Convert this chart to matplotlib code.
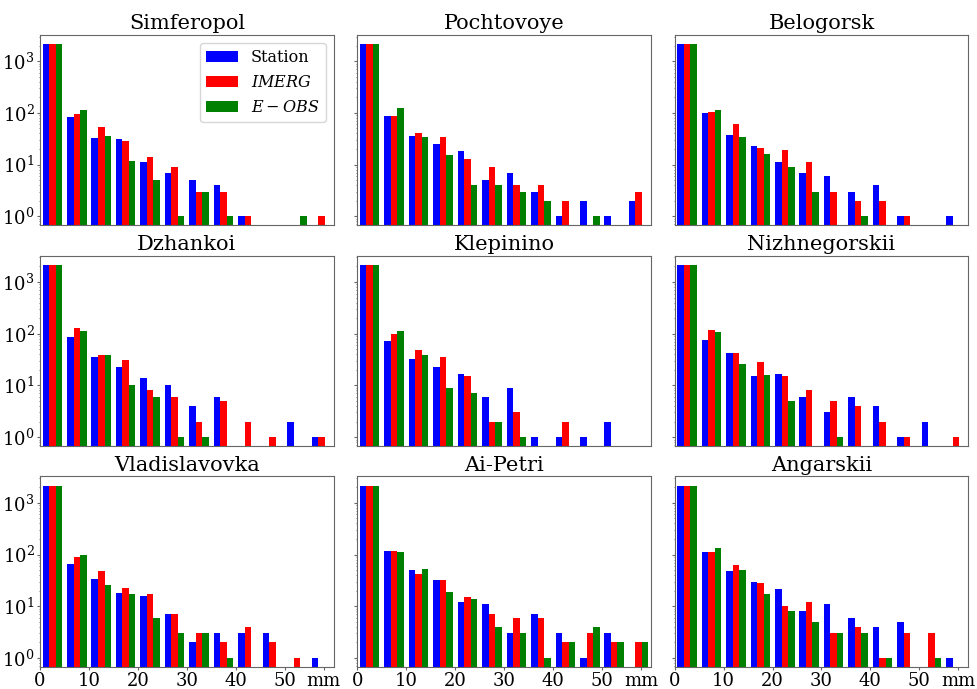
import numpy as np
import matplotlib
matplotlib.use("Agg")
import matplotlib.pyplot as plt

plt.rcParams['font.family'] = ['DejaVu Serif']
plt.rcParams['mathtext.fontset'] = 'dejavuserif'

# --------------------
# Data: counts per 5 mm bin (0-60 mm)
# --------------------
EDGES = np.arange(0, 65, 5)
STATIONS = ["Simferopol", "Pochtovoye", "Belogorsk",
            "Dzhankoi", "Klepinino", "Nizhnegorskii",
            "Vladislavovka", "Ai-Petri", "Angarskii"]

station = [
    [2150, 82, 32, 31, 11, 7, 5, 4, 1, 0, 0, 0],
    [2150, 88, 36, 25, 18, 5, 7, 3, 1, 2, 1, 2],
    [2150, 98, 38, 23, 11, 7, 6, 3, 4, 1, 0, 1],
    [2150, 85, 36, 23, 14, 10, 4, 6, 0, 0, 2, 1],
    [2150, 74, 33, 23, 17, 6, 9, 1, 1, 1, 2, 0],
    [2150, 75, 43, 15, 17, 6, 3, 6, 4, 1, 2, 0],
    [2150, 67, 34, 18, 16, 7, 2, 3, 3, 3, 0, 1],
    [2150, 115, 50, 32, 12, 11, 3, 7, 3, 1, 3, 0],
    [2150, 112, 48, 30, 22, 8, 11, 6, 4, 5, 0, 1],
]
imerg = [
    [2150, 94, 54, 28, 14, 9, 3, 3, 1, 0, 0, 1],
    [2150, 88, 40, 34, 13, 9, 4, 4, 2, 0, 0, 3],
    [2150, 105, 60, 21, 19, 11, 3, 2, 2, 1, 0, 0],
    [2150, 129, 38, 31, 8, 6, 2, 5, 2, 1, 0, 1],
    [2150, 97, 48, 35, 15, 2, 3, 0, 2, 0, 0, 0],
    [2150, 120, 42, 28, 15, 8, 5, 4, 2, 1, 0, 1],
    [2150, 91, 48, 23, 17, 7, 3, 2, 4, 2, 1, 0],
    [2150, 117, 43, 32, 15, 7, 6, 6, 2, 3, 2, 2],
    [2150, 113, 63, 28, 10, 12, 3, 4, 1, 3, 3, 0],
]
eobs = [
    [2170, 115, 36, 12, 5, 1, 3, 1, 0, 0, 1, 0],
    [2170, 122, 34, 15, 4, 4, 3, 2, 0, 1, 0, 0],
    [2170, 113, 34, 16, 9, 3, 0, 1, 0, 0, 0, 0],
    [2170, 112, 38, 10, 6, 1, 1, 0, 0, 0, 0, 0],
    [2170, 112, 38, 9, 7, 2, 1, 0, 0, 0, 0, 0],
    [2170, 107, 26, 16, 5, 0, 1, 0, 0, 0, 0, 0],
    [2170, 98, 26, 17, 6, 3, 3, 1, 0, 0, 0, 0],
    [2170, 110, 53, 19, 14, 4, 3, 1, 2, 4, 2, 2],
    [2170, 137, 51, 17, 8, 5, 3, 3, 1, 0, 1, 0],
]

COLORS = ["blue", "red", "green"]
LABELS = ["Station", "$IMERG$", "$E-OBS$"]

# --------------------
# Plot
# --------------------
fig, axes = plt.subplots(3, 3, figsize=(9.78, 6.89), dpi=100, sharex=True, sharey=True)
fig.subplots_adjust(left=0.041, right=0.990, top=0.9496, bottom=0.0324,
                    wspace=0.081, hspace=0.161)

centers = EDGES[:-1] + 2.5
for k, ax in enumerate(axes.flat):
    ax.hist([centers] * 3, bins=EDGES,
            weights=[station[k], imerg[k], eobs[k]],
            color=COLORS, label=LABELS, log=True)
    ax.set_title(STATIONS[k], fontsize=15, pad=4)
    for sp in ax.spines.values():
        sp.set_color("#666666")
    ax.tick_params(axis='both', which='major', labelsize=13, length=2, color="#666666", pad=2)
    ax.tick_params(axis='both', which='minor', length=1, color="#666666")

ax = axes[0, 0]
ax.set_xlim(0, 60)
ax.set_ylim(0.68, 3250)
ax.set_xticks([0, 10, 20, 30, 40, 50, 58])
ax.set_xticklabels(["0", "10", "20", "30", "40", "50", "mm"])
ax.set_yticks([1, 10, 100, 1000])
for a in axes[:2, :].flat:
    a.tick_params(axis='x', which='both', length=0)

axes[0, 0].legend(loc='upper right', fontsize=11.5, handlelength=2, borderpad=0.4,
                  labelspacing=0.5)

plt.savefig("out.png", dpi=100)
